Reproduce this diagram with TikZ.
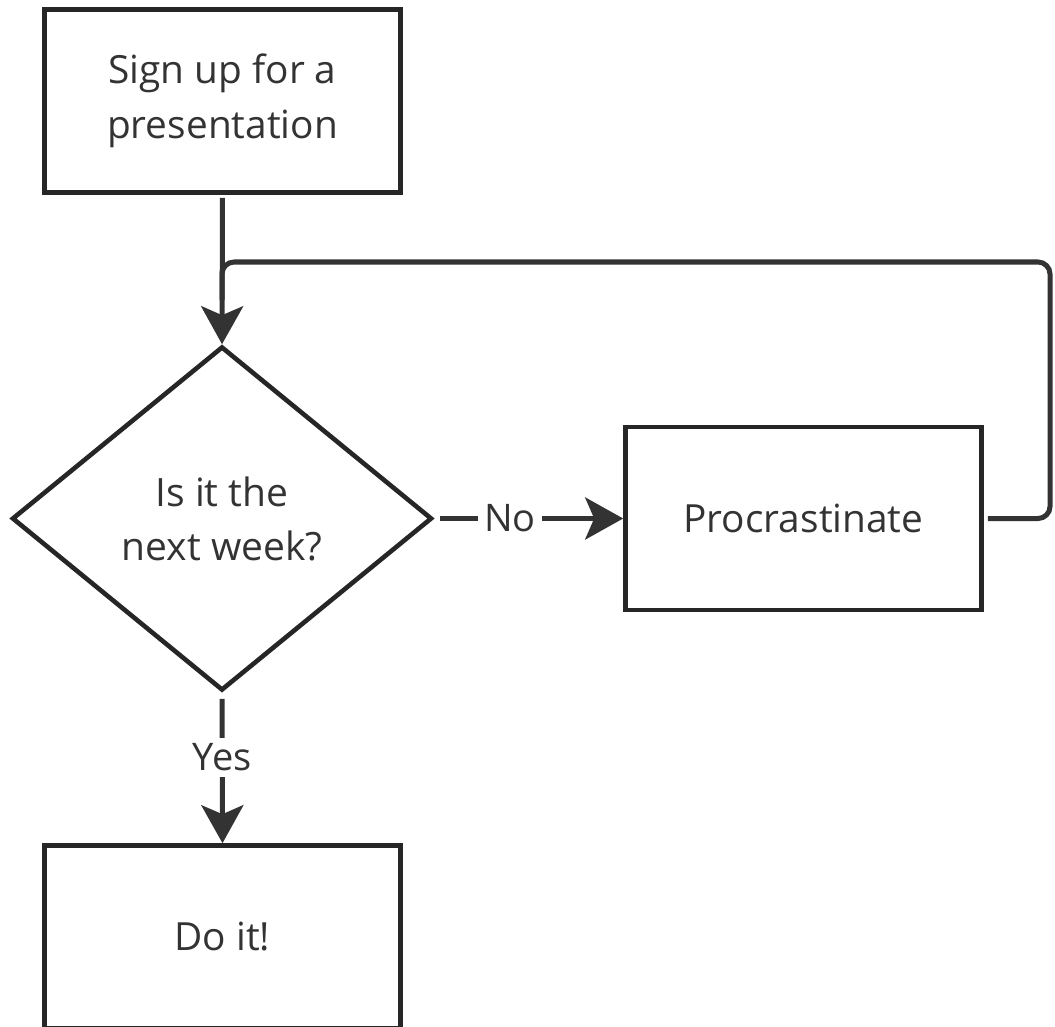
\documentclass[tikz,border=0pt]{standalone}
\usepackage{fontspec}
\setmainfont{Open Sans}
\usetikzlibrary{shapes.geometric,arrows.meta}
\definecolor{ink}{HTML}{262626}
\definecolor{txt}{HTML}{333333}
\tikzset{
  boxnode/.style={draw=ink, line width=4.6pt, minimum width=356pt, minimum height=183pt, inner sep=0pt, align=center, text=txt, font=\fontsize{38.8}{55}\selectfont},
  decnode/.style={diamond, draw=ink, line width=4.6pt, minimum width=420pt, minimum height=344pt, inner sep=0pt, align=center, text=txt, font=\fontsize{39}{54}\selectfont},
  conn/.style={draw=txt, line width=5pt},
  arr/.style={conn, -{Stealth[length=38pt, width=42pt, inset=9pt]}},
  lbl/.style={fill=white, text=txt, inner sep=6pt, font=\fontsize{38}{44}\selectfont}
}
\begin{document}
\begin{tikzpicture}[x=1pt,y=-1pt]
\useasboundingbox (0,0) rectangle (1055,1027);
\begin{scope}
\clip (0,0) rectangle (1055,1027);
\node[boxnode] (sign) at (222.5,101) {Sign up for a\\presentation};
\node[decnode] (dec) at (222,518.5) {Is it the\\next week?};
\node[boxnode] (proc) at (803.5,518.5) {Procrastinate};
\node[boxnode] (doit) at (222.5,937) {Do it!};
\coordinate (loopR) at (1050,262);
\coordinate (join) at (222,300);

\draw[arr, shorten <=3pt] (sign.south) -- (dec.north);
\draw[conn, rounded corners=12pt, shorten <=4pt] (proc.east) -- (proc.east -| loopR) -- (loopR) -- (loopR -| join) -- (join);
\draw[arr, shorten <=6pt] (dec.east) -- node[lbl, pos=0.4] (no) {No} (proc.west);
\draw[arr, shorten <=6pt] (dec.south) -- node[lbl, pos=0.43] (yes) {Yes} (doit.north);
\end{scope}
\end{tikzpicture}
\end{document}
